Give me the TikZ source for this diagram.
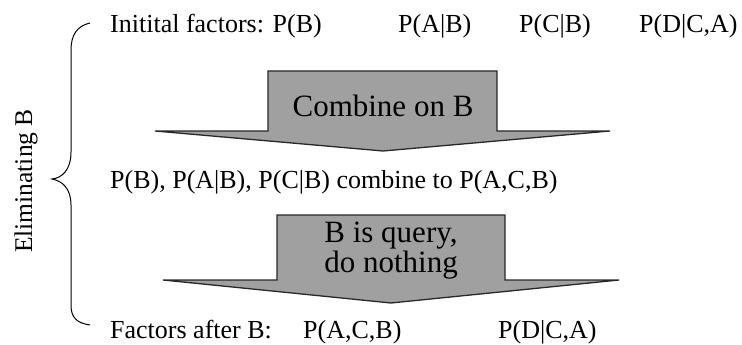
\documentclass[tikz,border=0pt]{standalone}
\usepackage{fontspec}
\setmainfont{Liberation Serif}
\begin{document}
\begin{tikzpicture}[x=1pt,y=-1pt,
  body/.style={inner sep=0pt,anchor=base west,font=\fontsize{26}{31}\selectfont},
  bigtext/.style={inner sep=0pt,anchor=base,font=\fontsize{31}{26}\selectfont},
  sidetext/.style={inner sep=0pt,rotate=90,font=\fontsize{25.5}{30}\selectfont},
  blockarrow/.style={fill={rgb,255:red,160;green,160;blue,160},draw={rgb,255:red,40;green,40;blue,40},line width=1.3pt,line join=miter},
  bracestyle/.style={draw=black,line width=1pt}]
\useasboundingbox (0,0) rectangle (742,345);

% first row of factors
\node[body] (init) at (110,33) {Initital factors: P(B)};
\node[body] (pab) at (398,33) {P(A|B)};
\node[body] (pcb) at (519,33) {P(C|B)};
\node[body] (pdca) at (639,33) {P(D|C,A)};

% block arrow: combine
\path[blockarrow] (268,71) -- (497,71) -- (497,131) -- (610,131) -- (383,151)
  -- (155,131) -- (268,131) -- cycle;
\node[bigtext] (combine) at (383,117) {Combine on B};

% intermediate result
\node[body] (mid) at (110,188) {P(B), P(A|B), P(C|B) combine to P(A,C,B)};

% block arrow: query variable (base anchor sits on the last line)
\path[blockarrow] (277,215) -- (505,215) -- (505,280) -- (619,280) -- (391,303)
  -- (163,280) -- (277,280) -- cycle;
\node[bigtext,align=center] (query) at (391,272) {B is query,\\do nothing};

% final factors
\node[body] (after) at (110,338) {Factors after B:};
\node[body] (pacb) at (303,338) {P(A,C,B)};
\node[body] (pdca2) at (498,338) {P(D|C,A)};

% left brace and its label
\path[bracestyle] (90,23) .. controls (77,26) and (71,35) .. (71,50) -- (71,152)
  .. controls (71,170) and (62,178) .. (52,179)
  .. controls (62,181) and (71,188) .. (71,205) -- (71,305)
  .. controls (71,318) and (77,323) .. (90,325);
\node[sidetext] (elim) at (26,181) {Eliminating B};
\end{tikzpicture}
\end{document}
